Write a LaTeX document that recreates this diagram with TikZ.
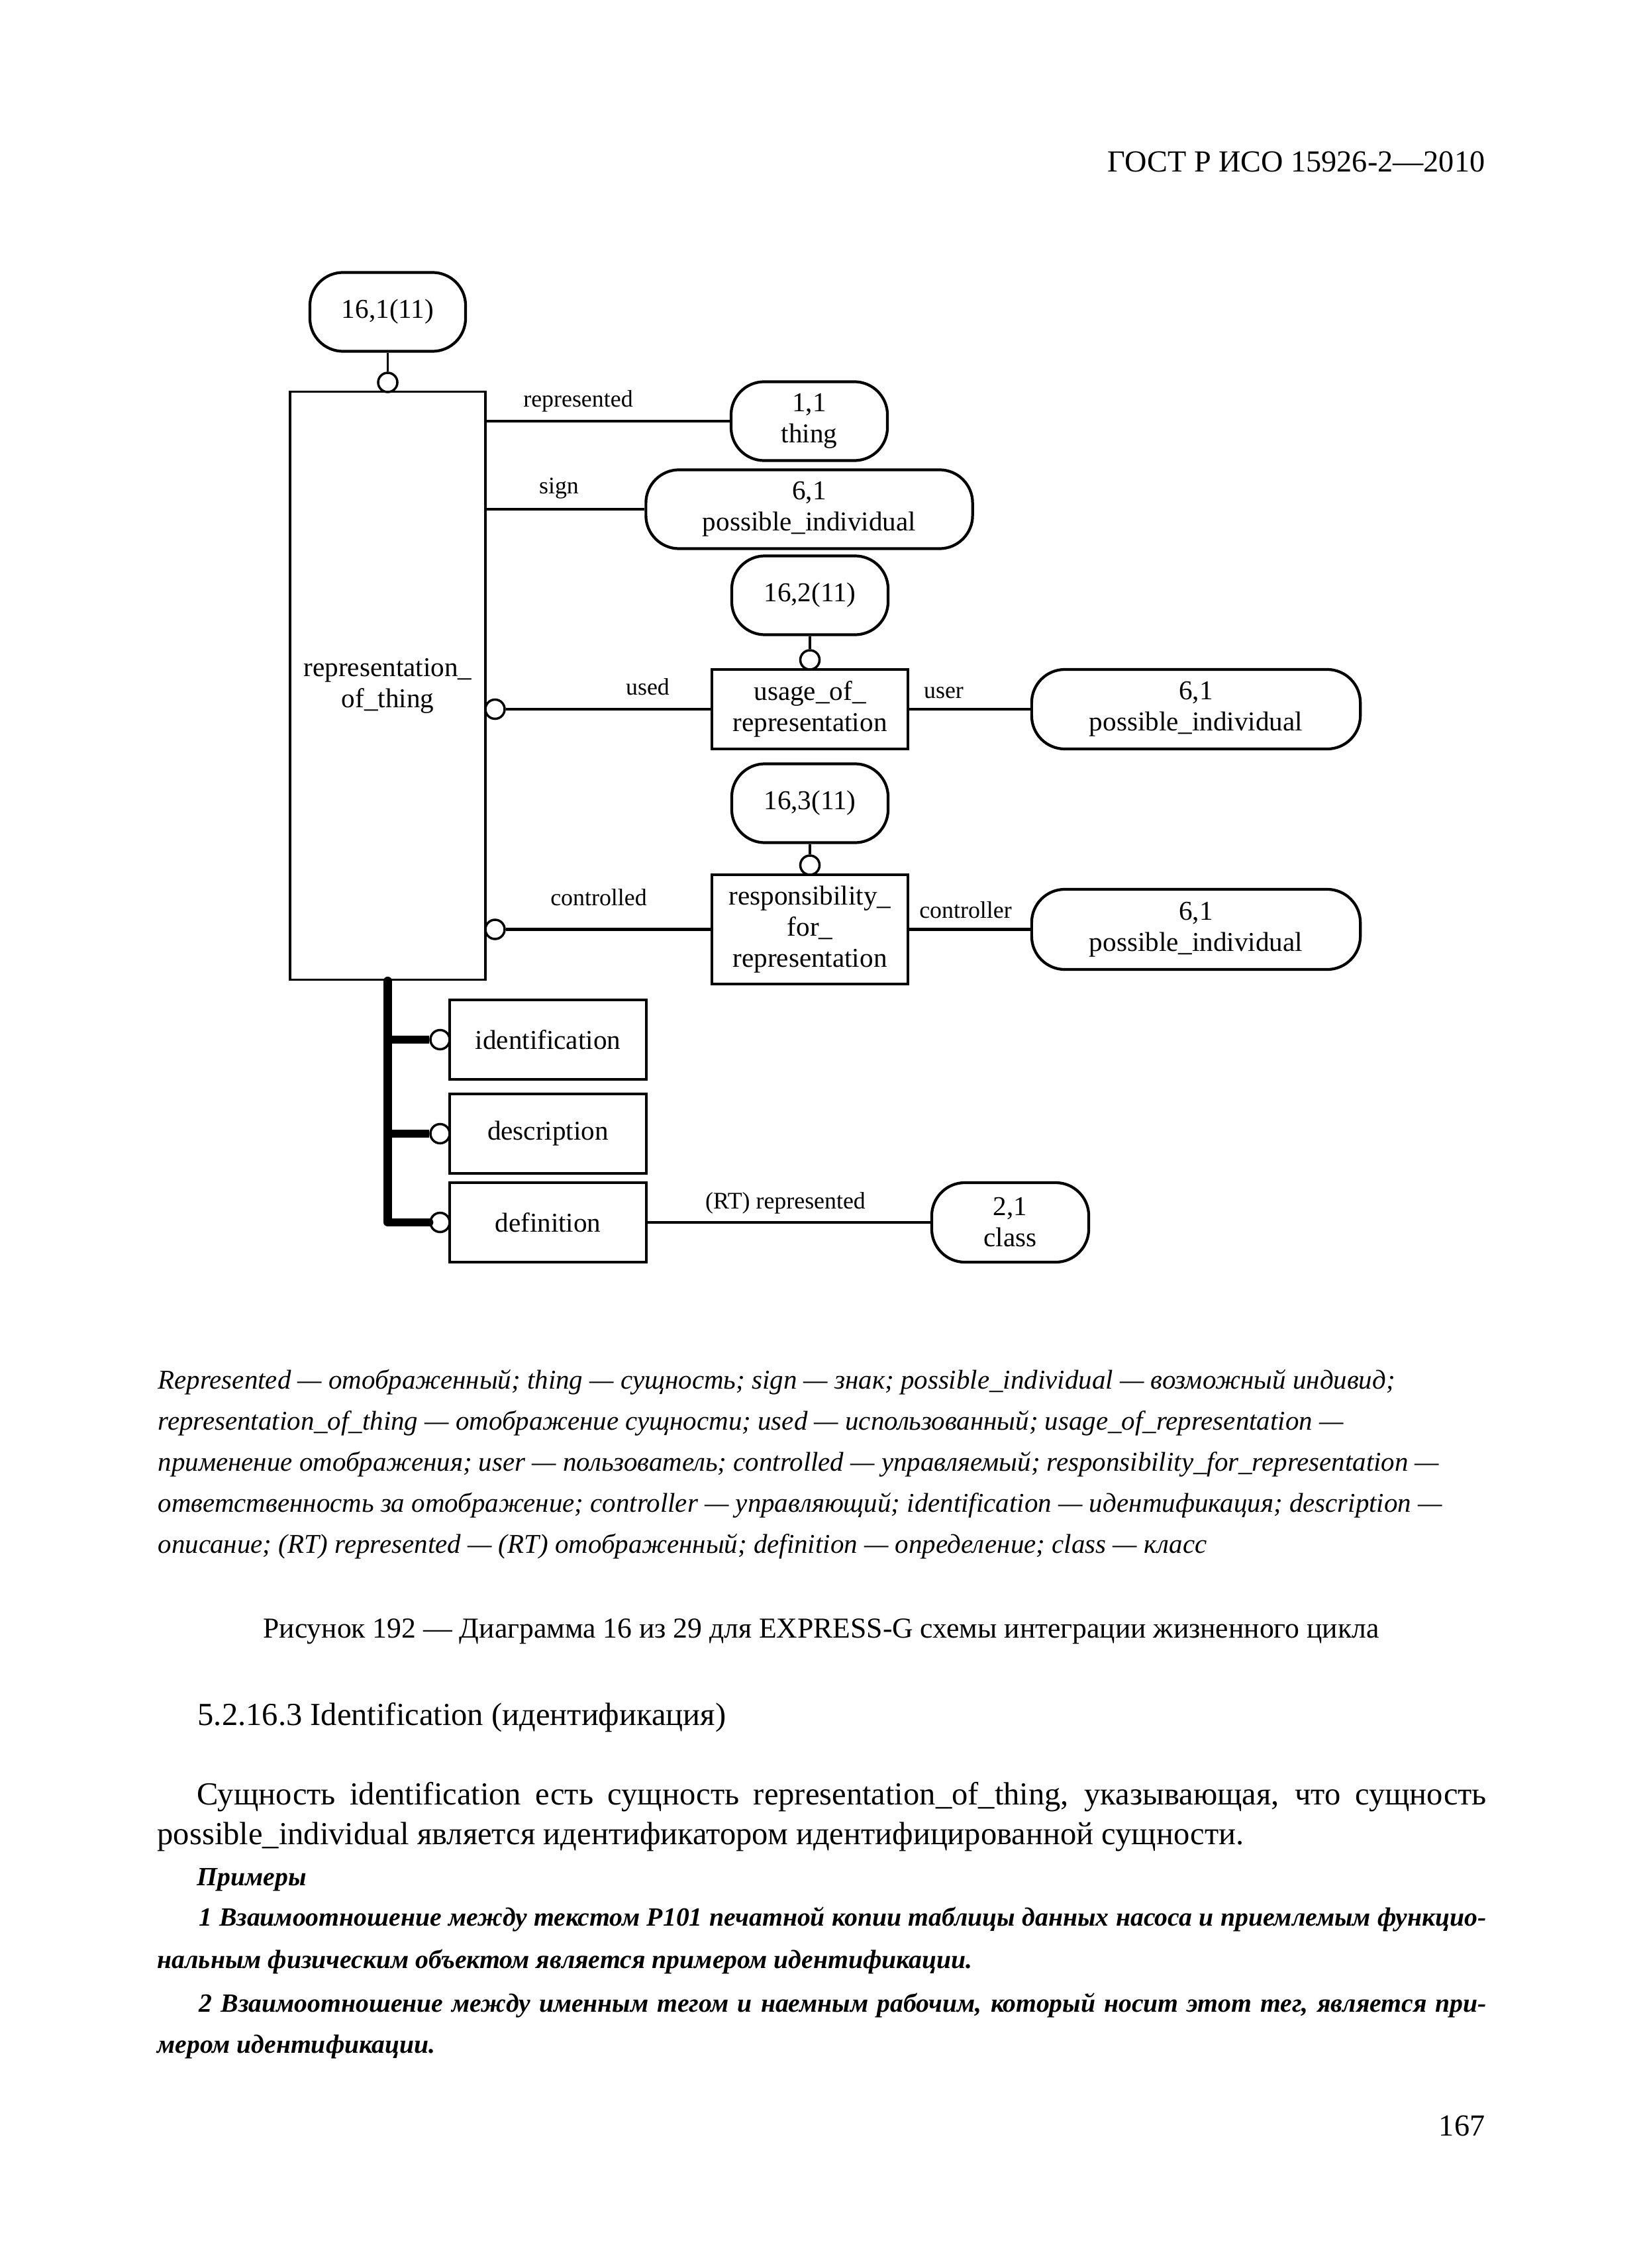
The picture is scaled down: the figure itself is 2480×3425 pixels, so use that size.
\documentclass[tikz,border=0pt]{standalone}
\usepackage{fontspec}
\setmainfont{Liberation Serif}
\newlength\calw
\newcommand\calib[3]{\settowidth\calw{\fontsize{10pt}{12pt}\selectfont #3}\pgfmathsetmacro#1{10*#2/\calw}}
\newcommand\dfont{\fontsize{11.7pt}{13.4pt}\selectfont}
\newcommand\lfont{\fontsize{10.2pt}{12pt}\selectfont}
\tikzset{
  pill/.style={draw, line width=1.2pt, rounded corners=0.5cm, minimum height=1.19cm, align=center, inner sep=0pt, font=\dfont},
  ent/.style={draw, line width=1pt, align=center, inner sep=0pt, font=\dfont},
  circ/.style={circle, draw, line width=1pt, minimum size=0.29cm, inner sep=0pt, fill=white},
  rel/.style={line width=1.4pt},
  stemline/.style={line width=0.9pt},
  subtree/.style={line width=3.5pt, line cap=round, line join=round},
  subbranch/.style={line width=3.5pt},
  lbl/.style={inner sep=0pt, anchor=base, font=\lfont},
  tx/.style={inner sep=0pt, anchor=base west}
}
\begin{document}
\calib\legsz{18.67cm}{\itshape Represented — отображенный; thing — сущность; sign — знак; possible\_individual — возможный индивид;}%
\calib\bodysz{16.40cm}{possible\_individual является идентификатором идентифицированной сущности.}%
\calib\exsz{19.35cm}{\bfseries\itshape 1 Взаимоотношение между текстом P101 печатной копии таблицы данных насоса и приемлемым функцио-}%
\calib\capsz{16.84cm}{Рисунок 192 — Диаграмма 16 из 29 для EXPRESS-G схемы интеграции жизненного цикла}%
\calib\hdsz{5.69cm}{ГОСТ Р ИСО 15926-2—2010}%
\begin{tikzpicture}[x=0.01cm,y=-0.01cm]
\path[use as bounding box, fill=white] (0,0) rectangle (2480,3425);

% header and page number
\node[inner sep=0pt, anchor=base east, font=\fontsize{\hdsz pt}{16pt}\selectfont] (hdr) at (2243,260) {ГОСТ Р ИСО 15926-2—2010};
\node[inner sep=0pt, anchor=base east, font=\fontsize{\hdsz pt}{16pt}\selectfont] (pgno) at (2243,3225) {167};

% diagram nodes
\node[pill, minimum width=2.35cm] (p161) at (585.5,471) {16,1(11)};
\node[ent, minimum width=2.95cm, minimum height=8.87cm] (rot) at (585.5,1035.5) {representation\_\\of\_thing};
\node[circ] (c1) at (585.5,577.5) {};
\node[pill, minimum width=2.36cm] (thing) at (1222,636) {1,1\\thing};
\node[pill, minimum width=4.93cm] (pi1) at (1222,769) {6,1\\possible\_individual};
\node[pill, minimum width=2.36cm] (p162) at (1223,899) {16,2(11)};
\node[ent, minimum width=2.96cm, minimum height=1.20cm] (uor) at (1223,1071) {usage\_of\_\\representation};
\node[circ] (cu2) at (1223,996.5) {};
\node[circ] (cused) at (747.5,1071) {};
\node[pill, minimum width=4.96cm, minimum height=1.20cm] (pi2) at (1806,1071) {6,1\\possible\_individual};
\node[pill, minimum width=2.36cm] (p163) at (1223,1213) {16,3(11)};
\node[ent, minimum width=2.96cm, minimum height=1.65cm] (rfr) at (1223,1403.5) {responsibility\_\\for\_\\representation};
\node[circ] (cu3) at (1223,1306.5) {};
\node[circ] (cctrl) at (747.5,1403.5) {};
\node[pill, minimum width=4.96cm, minimum height=1.21cm] (pi3) at (1806,1403.5) {6,1\\possible\_individual};
\node[ent, minimum width=2.97cm, minimum height=1.20cm] (ident) at (827.5,1570) {identification};
\node[ent, minimum width=2.97cm, minimum height=1.20cm] (desc) at (827.5,1712) {description};
\node[ent, minimum width=2.97cm, minimum height=1.20cm] (def) at (827.5,1846) {definition};
\node[circ] (cid) at (664.5,1570) {};
\node[circ] (cdesc) at (664.5,1712) {};
\node[circ] (cdef) at (664.5,1846) {};
\node[pill, minimum width=2.37cm, minimum height=1.20cm] (cls) at (1525.5,1846) {2,1\\class};

% connectors
\draw[stemline] (p161.south) -- (c1.north);
\draw[rel] (rot.east |- thing.west) -- (thing.west);
\draw[rel] (rot.east |- pi1.west) -- (pi1.west);
\draw[stemline] (p162.south) -- (cu2.north);
\draw[rel] (cused.east) -- (uor.west);
\draw[rel] (uor.east) -- (pi2.west);
\draw[stemline] (p163.south) -- (cu3.north);
\draw[rel] (cctrl.east) -- (rfr.west);
\draw[rel] (rfr.east) -- (pi3.west);
\draw[subtree] (rot.south) -- (rot.south |- cdef.west) -- (cdef.west);
\draw[subbranch] (rot.south |- cid.west) -- (cid.west);
\draw[subbranch] (rot.south |- cdesc.west) -- (cdesc.west);
\draw[rel] (def.east) -- (cls.west);

% labels
\node[lbl] (lrep) at (873,615) {represented};
\node[lbl] (lsign) at (844,746) {sign};
\node[lbl] (lused) at (978,1049) {used};
\node[lbl] (luser) at (1425,1054) {user};
\node[lbl] (lctd) at (904,1367) {controlled};
\node[lbl] (lctr) at (1458,1386) {controller};
\node[lbl] (lrt) at (1186,1825) {(RT) represented};

% legend
\begin{scope}[every node/.style={tx, font=\fontsize{\legsz pt}{17pt}\selectfont\itshape}]
\node (lg1) at (238,2097) {Represented — отображенный; thing — сущность; sign — знак; possible\_individual — возможный индивид;};
\node (lg2) at (238,2159) {representation\_of\_thing — отображение сущности; used — использованный; usage\_of\_representation —};
\node (lg3) at (238,2221) {применение отображения; user — пользователь; controlled — управляемый; responsibility\_for\_representation —};
\node (lg4) at (238,2283) {ответственность за отображение; controller — управляющий; identification — идентификация; description —};
\node (lg5) at (238,2345) {описание; (RT) represented — (RT) отображенный; definition — определение; class — класс};
\end{scope}

% caption
\node[inner sep=0pt, anchor=base, font=\fontsize{\capsz pt}{16pt}\selectfont] (cap) at (1240,2473) {Рисунок 192 — Диаграмма 16 из 29 для EXPRESS-G схемы интеграции жизненного цикла};

% heading and body
\begin{scope}[every node/.style={tx, font=\fontsize{\bodysz pt}{17pt}\selectfont}]
\node (hd) at (298,2605) {5.2.16.3 Identification (идентификация)};
\node (b1) at (297,2725) {\makebox[19.46cm][s]{Сущность identification есть сущность representation\_of\_thing, указывающая, что сущность}};
\node (b2) at (237,2785) {possible\_individual является идентификатором идентифицированной сущности.};
\end{scope}
\begin{scope}[every node/.style={tx, font=\fontsize{\exsz pt}{17pt}\selectfont\bfseries\itshape}]
\node (ex0) at (297,2847) {Примеры};
\node (e11) at (300,2908) {\makebox[19.43cm][s]{1 Взаимоотношение между текстом P101 печатной копии таблицы данных насоса и приемлемым функцио-}};
\node (e12) at (237,2972) {нальным физическим объектом является примером идентификации.};
\node (e21) at (300,3038) {\makebox[19.43cm][s]{2 Взаимоотношение между именным тегом и наемным рабочим, который носит этот тег, является при-}};
\node (e22) at (237,3100) {мером идентификации.};
\end{scope}
\end{tikzpicture}
\end{document}
